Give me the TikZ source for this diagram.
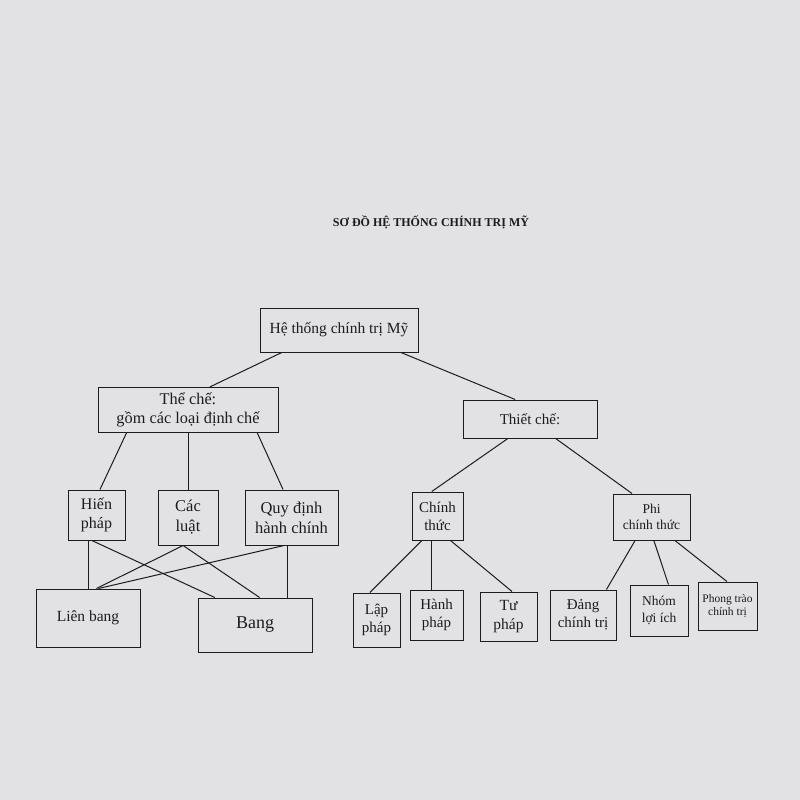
\documentclass[tikz,border=0pt]{standalone}
\usepackage{fontspec}
\setmainfont{Liberation Serif}
\usetikzlibrary{calc}
\definecolor{paper}{RGB}{226,226,228}
\definecolor{ink}{RGB}{28,28,30}
\begin{document}
\begin{tikzpicture}[x=1pt,y=-1pt,
  box/.style={draw=ink, line width=1pt, align=center, inner sep=2pt, text=ink},
  fs/.style={font=\fontsize{#1pt}{\dimexpr #1pt*12/10\relax}\selectfont},
  link/.style={draw=ink, line width=1pt}]
\fill[paper] (0,0) rectangle (800,800);
\useasboundingbox (0,0) rectangle (800,800);

\node[text=ink, font=\fontsize{12pt}{14pt}\selectfont\bfseries] (title) at (431,222) {SƠ ĐỒ HỆ THỐNG CHÍNH TRỊ MỸ};

\node[box, fs=15.5, minimum width=158pt, minimum height=44pt] (root) at (339,330) {Hệ thống chính trị Mỹ};
\node[box, fs=16.3, minimum width=180pt, minimum height=45pt] (the) at (188,410) {Thể chế:\\gồm các loại định chế};
\node[box, fs=15, minimum width=134pt, minimum height=38pt] (thiet) at (530,419) {Thiết chế:};

\node[box, fs=16, minimum width=57pt, minimum height=50pt] (hien) at (96.5,515) {Hiến\\pháp};
\node[box, fs=16.5, minimum width=60pt, minimum height=55pt] (cac) at (188,517.5) {Các\\luật};
\node[box, fs=16.5, minimum width=93pt, minimum height=55pt] (quy) at (291.5,517.5) {Quy định\\hành chính};
\node[box, fs=15, minimum width=51pt, minimum height=48pt] (chinh) at (437.5,516) {Chính\\thức};
\node[box, fs=13.5, minimum width=77pt, minimum height=46pt] (phi) at (651.5,517) {Phi\\chính thức};

\node[box, fs=15.5, minimum width=104pt, minimum height=58pt] (lien) at (88,618) {Liên bang};
\node[box, fs=18, minimum width=114pt, minimum height=54pt] (bang) at (255,625) {Bang};
\node[box, fs=15, minimum width=47pt, minimum height=54pt] (lap) at (376.5,620) {Lập\\pháp};
\node[box, fs=15, minimum width=53pt, minimum height=50pt] (hanh) at (436.5,615) {Hành\\pháp};
\node[box, fs=15.5, minimum width=57pt, minimum height=49pt] (tu) at (508.5,616.5) {Tư\\pháp};
\node[box, fs=15, minimum width=66pt, minimum height=50pt] (dang) at (583,615) {Đảng\\chính trị};
\node[box, fs=13.5, minimum width=58pt, minimum height=51pt] (nhom) at (659,610.5) {Nhóm\\lợi ích};
\node[box, fs=11.5, minimum width=59pt, minimum height=48pt] (phong) at (727.5,606) {Phong trào\\chính trị};

% level 1
\draw[link] ($(root.south west)!0.14!(root.south east)$) -- ($(the.north west)!0.62!(the.north east)$);
\draw[link] ($(root.south west)!0.89!(root.south east)$) -- ($(thiet.north west)!0.39!(thiet.north east)$);
% level 2 left
\draw[link] ($(the.south west)!0.16!(the.south east)$) -- ($(hien.north west)!0.56!(hien.north east)$);
\draw[link] (cac.north) -- (cac.north |- the.south);
\draw[link] ($(the.south west)!0.883!(the.south east)$) -- ($(quy.north west)!0.41!(quy.north east)$);
% level 2 right
\draw[link] ($(thiet.south west)!0.336!(thiet.south east)$) -- ($(chinh.north west)!0.39!(chinh.north east)$);
\draw[link] ($(thiet.south west)!0.69!(thiet.south east)$) -- ($(phi.north west)!0.25!(phi.north east)$);
% crossings left
\coordinate (hv) at ($(hien.south west)!0.37!(hien.south east)$);
\draw[link] (hv) -- (hv |- lien.north);
\draw[link] ($(hien.south west)!0.42!(hien.south east)$) -- ($(bang.north west)!0.15!(bang.north east)$);
\draw[link] ($(cac.south west)!0.42!(cac.south east)$) -- ($(lien.north west)!0.58!(lien.north east)$);
\draw[link] ($(cac.south west)!0.42!(cac.south east)$) -- ($(bang.north west)!0.54!(bang.north east)$);
\draw[link] ($(quy.south west)!0.42!(quy.south east)$) -- ($(lien.north west)!0.60!(lien.north east)$);
\coordinate (qv) at ($(quy.south west)!0.46!(quy.south east)$);
\draw[link] (qv) -- (qv |- bang.north);
% Chinh thuc children
\draw[link] ($(chinh.south west)!0.2!(chinh.south east)$) -- ($(lap.north west)!0.36!(lap.north east)$);
\coordinate (cv) at ($(chinh.south west)!0.39!(chinh.south east)$);
\draw[link] (cv) -- (cv |- hanh.north);
\draw[link] ($(chinh.south west)!0.75!(chinh.south east)$) -- ($(tu.north west)!0.56!(tu.north east)$);
% Phi chinh thuc children
\draw[link] ($(phi.south west)!0.29!(phi.south east)$) -- ($(dang.north west)!0.85!(dang.north east)$);
\draw[link] ($(phi.south west)!0.53!(phi.south east)$) -- ($(nhom.north west)!0.66!(nhom.north east)$);
\draw[link] ($(phi.south west)!0.8!(phi.south east)$) -- ($(phong.north west)!0.49!(phong.north east)$);
\end{tikzpicture}
\end{document}
